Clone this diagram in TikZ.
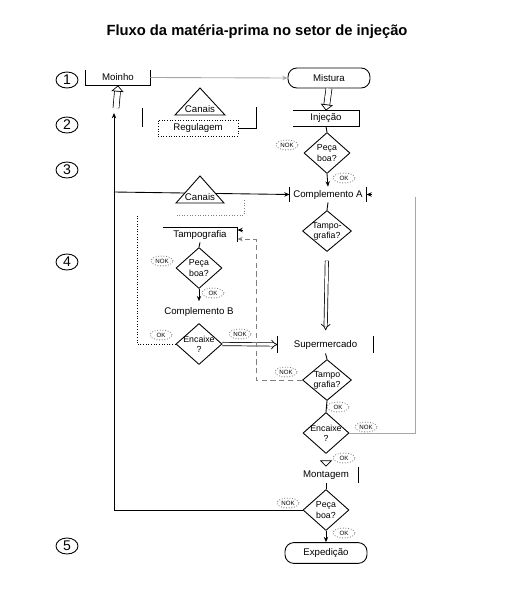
\documentclass[tikz,border=0pt]{standalone}
\usepackage{fontspec}
\setmainfont{Liberation Sans}
\usetikzlibrary{arrows.meta,shapes.geometric,calc}

\begin{document}
\begin{tikzpicture}[x=0.02cm,y=-0.02cm,font=\fontsize{5.5}{6}\selectfont,line width=0.5pt,
		dia/.style={draw,diamond,inner sep=0pt,minimum width=0.92cm,minimum height=0.82cm},
		dtxt/.style={align=center,inner sep=0pt,font=\fontsize{5}{5.8}\selectfont},
		term/.style={draw,rounded corners=5pt,minimum width=1.64cm,minimum height=0.4cm},
		boxn/.style={inner sep=0pt,minimum height=0.3cm},
		numc/.style={draw,ellipse,inner sep=0pt,minimum width=0.44cm,minimum height=0.32cm,font=\fontsize{8}{9}\selectfont},
		okl/.style={draw,densely dotted,gray,text=black,ellipse,inner sep=0pt,minimum width=0.44cm,minimum height=0.2cm,font=\fontsize{3.5}{4}\selectfont},
		tip/.style={-{Stealth[length=3pt,width=2.5pt]}},
		hol/.style={double,double distance=3pt,line width=0.4pt,-{Triangle[open,width=7pt,length=3.5pt]}},
		dbl/.style={double,double distance=1.5pt,line width=0.4pt,-{Implies}},
		grey/.style={gray!70}]
	\useasboundingbox (0,0) rectangle (519,599);
	\node[font=\fontsize{8.4}{9}\selectfont\bfseries] (title) at (257,32) {Fluxo da matéria-prima no setor de injeção};
	\foreach \num/\ypos in {1/80,2/125,3/170,4/262,5/546} {
		\node[numc] (n\num) at (67,\ypos) {\num};
	}
	\node[boxn,minimum width=1.28cm] (moinho) at (118,77.5) {Moinho};
	\draw (moinho.north west) -- (moinho.south west) -- (moinho.south east) -- (moinho.north east);
	\node[term] (mistura) at (329,78) {Mistura};
	\node[boxn,minimum width=1.32cm] (inj) at (326,118.5) {Injeção};
	\draw (inj.north west) -- (inj.north east) -- (inj.south east) -- (inj.south west);
	\node[dia,label={[dtxt]center:Peça\\boa?}] (pb1) at (327,153) {};
	\node[boxn,minimum width=1.52cm] (complA) at (328,194.5) {Complemento A};
	\draw (complA.north west) -- (complA.south west) (complA.north east) -- (complA.south east);
	\node[dia,minimum width=0.98cm,label={[dtxt]center:Tampo-\\grafia?}] (tg1) at (327,231) {};
	\node[boxn,minimum width=1.9cm,minimum height=0.34cm] (super) at (325.5,344.5) {Supermercado};
	\draw (super.north west) -- (super.south west) (super.north east) -- (super.south east);
	\node[dia,minimum width=0.98cm,label={[dtxt]center:Tampo\\grafia?}] (tg2) at (327,380) {};
	\node[dia,label={[dtxt]center:Encaixe\\?}] (enc2) at (326,433) {};
	\node[boxn,minimum width=1.28cm,minimum height=0.32cm] (mont) at (326,475) {Montagem};
	\draw (mont.north east) -- (mont.south east);
	\node[dia,label={[dtxt]center:Peça\\boa?}] (pb3) at (326,510) {};
	\node[term] (exped) at (326,553) {Expedição};

	\draw[fill=white] (175,115) -- (200,88) -- (225,115) -- cycle;
	\node (can1) at (200,109) {Canais};
	\draw (142,108) -- (142,127);
	\node[boxn,draw,densely dotted,minimum width=1.6cm,minimum height=0.32cm] (reg) at (198,128) {Regulagem};
	\coordinate (regend) at (256,107);
	\draw (reg.east) -- (256,128) -- (regend);

	\coordinate (ret) at (114,113);
	\coordinate (jA) at (114,192);
	\draw[tip] (jA) -- (complA.west);
	\draw[fill=white] (176,203) -- (200,176) -- (224,203) -- cycle;
	\node (can2) at (200,197) {Canais};
	\node[boxn,minimum width=1.48cm,minimum height=0.28cm] (tamp) at (200,235) {Tampografia};
	\draw (tamp.north west) -- (tamp.north east) -- (tamp.south east);
	\node[dia,label={[dtxt]center:Peça\\boa?}] (pb2) at (199,268) {};
	\node (compB) at (199,312) {Complemento B};
	\node[dia,label={[dtxt]center:Encaixe\\?}] (enc1) at (199,344) {};

	\foreach \lbl/\xpos/\ypos/\nm in {NOK/287/145/k1,OK/344/178/k2,NOK/162/261/k3,OK/213/293/k4,OK/161/335/k5,NOK/240/334/k6,NOK/286/372/k7,OK/338/407/k8,NOK/366/427/k9,OK/344/458/k10,NOK/288/503/k11,OK/344/533/k12} {
		\node[okl] (\nm) at (\xpos,\ypos) {\lbl};
	}

	\draw[grey,tip] (moinho.east) -- (mistura.west);
	\draw[hol] (mistura.south) -- (inj.north);
	\draw (inj.south) -- (pb1.north);
	\draw[tip] (pb1.south) -- (complA.north);
	\draw (complA.south) -- (tg1.north);
	\draw[dbl,shorten <=5pt,shorten >=3pt] (tg1.south) -- (super.north);
	\draw (super.south) -- (tg2.north);
	\draw (tg2.south) -- (enc2.north);
	\draw[hol] (enc2.south) -- (mont.north);
	\draw (mont.south) -- (pb3.north);
	\draw[tip] (pb3.south) -- (exped.north);
	\draw[tip] (pb3.west) -- (114,510) -- (ret);
	\draw[hol] (116,108) -- (moinho.south);
	\coordinate (rtop) at (415,197);
	\draw[grey] (enc2.east) -- (415,433) -- (rtop);
	\draw[tip] ($(complA.east)+(6,0)$) -- (complA.east);

	\draw (tamp.south) -- (pb2.north);
	\draw[tip] (pb2.south) -- (compB.north);
	\draw[dbl] (enc1.east) -- (super.west);
	\draw[densely dotted,gray] (244,200) -- (244,215) -- (177,215);
	\draw[densely dotted] (enc1.west) -- (137,344) -- (137,215);
	\draw[densely dashed,gray,tip] (tg2.west) -- (256,380) -- (256,239) -- (tamp.south east |- 0,239);
	\draw[tip] (243,230) -- (tamp.east |- 0,230);
\end{tikzpicture}
\end{document}
